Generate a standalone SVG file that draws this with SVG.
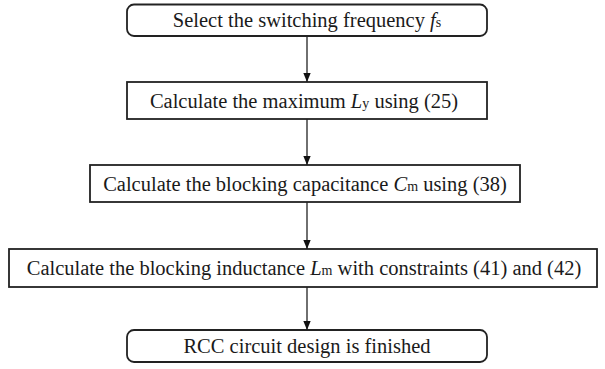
<svg xmlns="http://www.w3.org/2000/svg" width="605" height="369" viewBox="0 0 605 369">
<style>
.box{fill:#fff;stroke:#222;stroke-width:1.8}
.t{font-family:"Liberation Serif","Times New Roman",serif;font-size:20.5px;fill:#1a1a1a;text-anchor:middle}
.i{font-style:italic}
.s{font-size:14px}
.c{stroke:#222;stroke-width:1.3;fill:none}
</style>
<defs>
<marker id="ah" markerWidth="9" markerHeight="11" refX="11" refY="4.5" orient="auto" markerUnits="userSpaceOnUse" viewBox="0 0 11 9">
<path d="M0,0 L11,4.5 L0,9 Z" fill="#111"/>
</marker>
</defs>
<g id="n1"><rect class="box" x="127" y="4.5" width="360" height="31.5" rx="7"/><text class="t" x="307" y="27">Select the switching frequency <tspan class="i">f</tspan><tspan class="s">s</tspan></text></g>
<g id="n2"><rect class="box" x="127" y="82" width="360" height="37"/><text class="t" x="304" y="107.5">Calculate the maximum <tspan class="i">L</tspan><tspan class="s">y</tspan> using (25)</text></g>
<g id="n3"><rect class="box" x="90" y="165" width="430" height="37"/><text class="t" x="305" y="190.5">Calculate the blocking capacitance <tspan class="i">C</tspan><tspan class="s">m</tspan> using (38)</text></g>
<g id="n4"><rect class="box" x="9" y="249" width="588" height="38"/><text class="t" x="304" y="275">Calculate the blocking inductance <tspan class="i">L</tspan><tspan class="s">m</tspan> with constraints (41) and (42)</text></g>
<g id="n5"><rect class="box" x="127" y="330" width="360" height="32" rx="7"/><text class="t" x="307" y="353">RCC circuit design is finished</text></g>
<g id="connectors">
<line class="c" x1="307" y1="36" x2="307" y2="82" marker-end="url(#ah)"/>
<line class="c" x1="307" y1="119" x2="307" y2="165" marker-end="url(#ah)"/>
<line class="c" x1="307" y1="202" x2="307" y2="249" marker-end="url(#ah)"/>
<line class="c" x1="307" y1="287" x2="307" y2="330" marker-end="url(#ah)"/>
</g>
</svg>
